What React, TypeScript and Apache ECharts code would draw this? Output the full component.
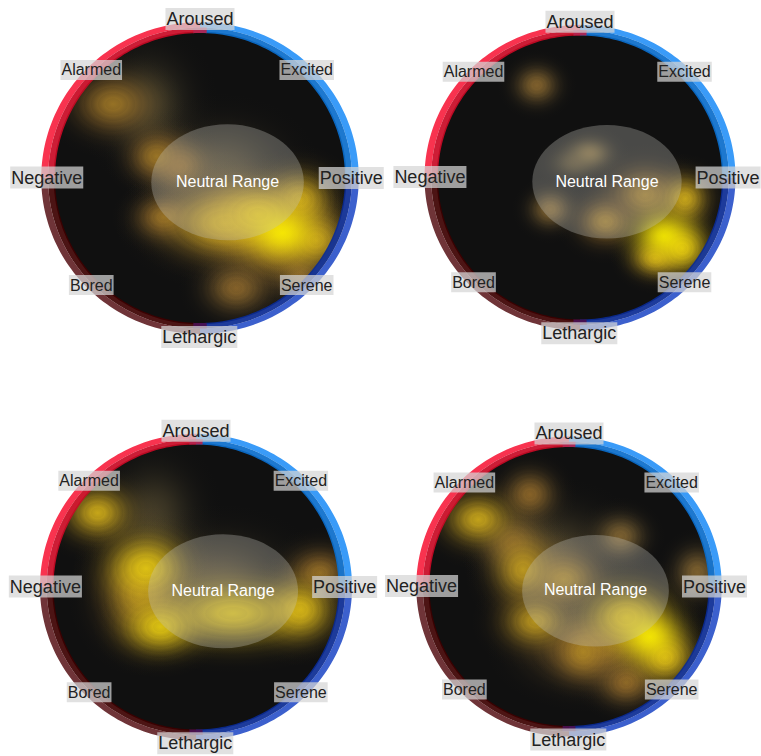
import React, { useEffect, useRef } from "react";
import * as echarts from "echarts";

// Each blob: valence, arousal, radiusX, radiusY, intensity
const blobsTopLeft = [
  [-0.36, 0.5, 0.5, 0.6, 0.07],
  [0.15, 0.05, 0.7, 0.55, 0.12],
  [0.25, -0.3, 0.85, 0.5, 0.34],
  [0.55, -0.45, 0.6, 0.55, 0.34],
  [-0.6, 0.51, 0.5, 0.38, 0.36],
  [-0.3, 0.15, 0.36, 0.32, 0.36],
  [-0.14, 0.08, 0.36, 0.32, 0.3],
  [-0.25, -0.27, 0.36, 0.28, 0.34],
  [0.18, -0.31, 0.72, 0.42, 0.58],
  [0.4, -0.25, 0.6, 0.4, 0.64],
  [0.25, -0.76, 0.4, 0.32, 0.28],
  [0.69, -0.68, 0.26, 0.24, 0.24],
  [0.8, -0.43, 0.42, 0.38, 0.5],
  [0.69, -0.15, 0.42, 0.38, 0.56],
  [0.57, -0.38, 0.5, 0.38, 1],
];
const blobsTopRight = [
  [-0.305, 0.65, 0.28, 0.25, 0.24],
  [0.07, 0.17, 0.28, 0.2, 0.15],
  [-0.05, 0.1, 0.28, 0.2, 0.13],
  [-0.21, -0.225, 0.27, 0.24, 0.22],
  [0.18, -0.31, 0.36, 0.3, 0.38],
  [0.46, -0.12, 0.46, 0.36, 0.38],
  [0.74, -0.15, 0.32, 0.32, 0.56],
  [0.53, -0.57, 0.32, 0.25, 0.55],
  [0.72, -0.5, 0.34, 0.32, 0.72],
  [0.59, -0.41, 0.44, 0.36, 1],
];
const blobsBottomLeft = [
  [-0.3, 0.5, 0.5, 0.6, 0.08],
  [0.15, 0.05, 0.8, 0.55, 0.14],
  [-0.4, -0.05, 0.5, 0.58, 0.42],
  [-0.69, 0.52, 0.44, 0.36, 0.58],
  [0.87, 0.1, 0.4, 0.32, 0.34],
  [-0.35, 0.13, 0.52, 0.44, 0.72],
  [-0.25, -0.28, 0.48, 0.36, 0.74],
  [0.73, -0.16, 0.44, 0.4, 0.64],
  [0.26, -0.185, 0.95, 0.42, 0.72],
];
const blobsBottomRight = [
  [-0.1, 0.25, 0.7, 0.55, 0.1],
  [-0.4, 0.31, 0.4, 0.36, 0.24],
  [0.2, -0.45, 0.8, 0.46, 0.3],
  [0.37, 0.36, 0.32, 0.28, 0.2],
  [0.92, 0.1, 0.3, 0.32, 0.22],
  [-0.65, 0.48, 0.46, 0.36, 0.56],
  [-0.28, 0.66, 0.34, 0.32, 0.3],
  [-0.33, 0.12, 0.42, 0.46, 0.5],
  [-0.04, 0.05, 0.46, 0.36, 0.42],
  [-0.24, -0.25, 0.46, 0.36, 0.5],
  [0.1, -0.47, 0.36, 0.36, 0.4],
  [0.41, -0.69, 0.36, 0.3, 0.32],
  [0.41, -0.22, 0.6, 0.46, 0.66],
  [0.69, -0.51, 0.4, 0.37, 0.62],
  [0.58, -0.36, 0.44, 0.38, 1],
];
const panelBlobs = [blobsTopLeft, blobsTopRight, blobsBottomLeft, blobsBottomRight];

const moodLabels = [
  ["Aroused", 0, 1.097, 18],
  ["Lethargic", -0.005, -1.097, 18],
  ["Negative", -1.057, 0.003, 18],
  ["Positive", 1.043, 0, 18],
  ["Alarmed", -0.75, 0.745, 16],
  ["Excited", 0.736, 0.745, 16],
  ["Bored", -0.75, -0.738, 16],
  ["Serene", 0.736, -0.738, 16],
];
const neutralRange = [[0.19, -0.03, 0.526, 0.4]];
const neutralLabel = ["Neutral Range", 0.19, -0.025];

// start angle, end angle, band (0 outer, 1 inner)
const ringArcs = [
  [90, 180, 0],
  [0, 90, 0],
  [180, 270, 0],
  [270, 360, 0],
  [90, 180, 1],
  [0, 90, 1],
  [180, 270, 1],
  [270, 360, 1],
  [87.4, 92.6, 1],
  [267.4, 272.6, 1],
];
const ringColors = [
  "#f8334f", "#3a9bf8", "#6f3438", "#3c60cd",
  "#c90a25", "#0a6ccb", "#3d0000", "#0a2a94",
  "#b5244f", "#4a1050",
];

// centre x, centre y, radius of the dark disc, in page pixels
const panels = [
  [200, 178, 145],
  [580, 177.5, 142],
  [196, 587, 142.5],
  [569, 586.5, 139.5],
];

function mix(a: number[], b: number[], t: number) {
  return a.map((v, i) => Math.round(v + (b[i] - v) * t));
}
function ramp(i: number) {
  const s = [
    [0, [105, 100, 70]],
    [0.3, [150, 108, 42]],
    [0.6, [228, 192, 25]],
    [1, [255, 242, 0]],
  ] as [number, number[]][];
  for (let k = 1; k < s.length; k++) {
    if (i <= s[k][0]) return mix(s[k - 1][1], s[k][1], (i - s[k - 1][0]) / (s[k][0] - s[k - 1][0]));
  }
  return s[s.length - 1][1];
}
function blobFill(i: number) {
  const peak = i < 0.15 ? 0.5 : 0.88;
  const stops: any[] = [];
  const n = 10;
  for (let k = 0; k <= n; k++) {
    const t = k / n;
    const a = peak * Math.exp(-3.6 * t * t) * (1 - t * t);
    const c = ramp(i * (1 - 0.4 * t));
    const notch = i >= 0.2 && i < 0.9 && k > 0 && k < n;
    const col = notch ? c.map((v) => Math.round(v * 0.975)) : c;
    stops.push({ offset: t, color: `rgba(${col[0]},${col[1]},${col[2]},${a.toFixed(3)})` });
    if (notch) {
      stops.push({ offset: Math.min(1, t + 0.012), color: `rgba(${c[0]},${c[1]},${c[2]},${a.toFixed(3)})` });
    }
  }
  return { type: "radial", x: 0.5, y: 0.5, r: 0.5, colorStops: stops, global: false };
}

function buildOption() {
  const grid: any[] = [];
  const xAxis: any[] = [];
  const yAxis: any[] = [];
  const series: any[] = [];
  panels.forEach(([cx, cy, r], p) => {
    grid.push({ left: cx - r, top: cy - r, width: 2 * r, height: 2 * r });
    xAxis.push({ type: "value", gridIndex: p, min: -1, max: 1, show: false });
    yAxis.push({ type: "value", gridIndex: p, min: -1, max: 1, show: false });
    const base = { type: "custom", xAxisIndex: p, yAxisIndex: p, clip: false, silent: true };
    const size = (api: any, rx: number, ry: number) => api.size([rx, ry]);
    series.push({
      ...base,
      z: 1,
      data: [[0, 0]],
      renderItem: (_: any, api: any) => {
        const c = api.coord([0, 0]);
        const s = size(api, 1, 1);
        return { type: "ellipse", shape: { cx: c[0], cy: c[1], rx: s[0] * 1.01, ry: s[1] * 1.01 }, style: { fill: "#101010" } };
      },
    });
    const blobs = [...panelBlobs[p]].sort((a, b) => a[4] - b[4]);
    series.push({
      ...base,
      z: 2,
      data: blobs,
      renderItem: (_: any, api: any) => {
        const c0 = api.coord([0, 0]);
        const sd = size(api, 1, 1);
        const c = api.coord([api.value(0), api.value(1)]);
        const s = size(api, api.value(2), api.value(3));
        return {
          type: "group",
          clipPath: { type: "ellipse", shape: { cx: c0[0], cy: c0[1], rx: sd[0] * 1.048, ry: sd[1] * 1.038 } },
          children: [
            {
              type: "ellipse",
              shape: { cx: c[0], cy: c[1], rx: s[0], ry: s[1] },
              style: { fill: blobFill(api.value(4)) },
            },
          ],
        };
      },
    });
    series.push({
      ...base,
      z: 3,
      data: neutralRange,
      renderItem: (_: any, api: any) => {
        const c = api.coord([api.value(0), api.value(1)]);
        const s = size(api, api.value(2), api.value(3));
        return { type: "ellipse", shape: { cx: c[0], cy: c[1], rx: s[0], ry: s[1] }, style: { fill: "rgba(195,195,190,0.32)" } };
      },
    });
    series.push({
      ...base,
      z: 4,
      data: ringArcs,
      renderItem: (params: any, api: any) => {
        const a0 = api.value(0);
        const a1 = api.value(1);
        const band = api.value(2);
        const o = band === 0 ? [1.095, 1.075] : [1.048, 1.038];
        const n = band === 0 ? [1.048, 1.038] : [1, 1];
        const c = api.coord([0, 0]);
        const s = size(api, 1, 1);
        const pts: number[][] = [];
        const steps = 60;
        for (let k = 0; k <= steps; k++) {
          const d = ((a0 + ((a1 - a0) * k) / steps) * Math.PI) / 180;
          pts.push([c[0] + Math.cos(d) * s[0] * o[0], c[1] - Math.sin(d) * s[1] * o[1]]);
        }
        for (let k = steps; k >= 0; k--) {
          const d = ((a0 + ((a1 - a0) * k) / steps) * Math.PI) / 180;
          pts.push([c[0] + Math.cos(d) * s[0] * n[0], c[1] - Math.sin(d) * s[1] * n[1]]);
        }
        return {
          type: "polygon",
          shape: { points: pts },
          style: { fill: ringColors[params.dataIndex], opacity: band === 1 ? 0.92 : 1 },
        };
      },
    });
    series.push({
      ...base,
      z: 5,
      data: moodLabels.map((m) => ({ value: [m[1], m[2], m[3]], name: m[0] })),
      renderItem: (params: any, api: any) => {
        const c = api.coord([api.value(0), api.value(1)]);
        return {
          type: "text",
          style: {
            x: c[0],
            y: c[1],
            text: moodLabels[params.dataIndex][0],
            align: "center",
            verticalAlign: "middle",
            fontFamily: "Liberation Sans",
            fontSize: api.value(2),
            fill: "#222222",
            backgroundColor: "rgba(214,214,214,0.72)",
            padding: [2, 1, 2, 1],
          },
        };
      },
    });
    series.push({
      ...base,
      z: 6,
      data: [[neutralLabel[1], neutralLabel[2]]],
      renderItem: (_: any, api: any) => {
        const c = api.coord([api.value(0), api.value(1)]);
        return {
          type: "text",
          style: {
            x: c[0],
            y: c[1],
            text: neutralLabel[0],
            align: "center",
            verticalAlign: "middle",
            fontFamily: "Liberation Sans",
            fontSize: 16,
            fill: "#ffffff",
          },
        };
      },
    });
  });
  return { animation: false, backgroundColor: "#ffffff", grid, xAxis, yAxis, series };
}

export default function App() {
  const ref = useRef<HTMLDivElement>(null);
  useEffect(() => {
    const chart = echarts.init(ref.current!, undefined, { renderer: "svg" });
    chart.setOption(buildOption() as any);
    return () => chart.dispose();
  }, []);
  return <div ref={ref} style={{ position: "absolute", left: 0, top: 0, width: 761, height: 756 }} />;
}
